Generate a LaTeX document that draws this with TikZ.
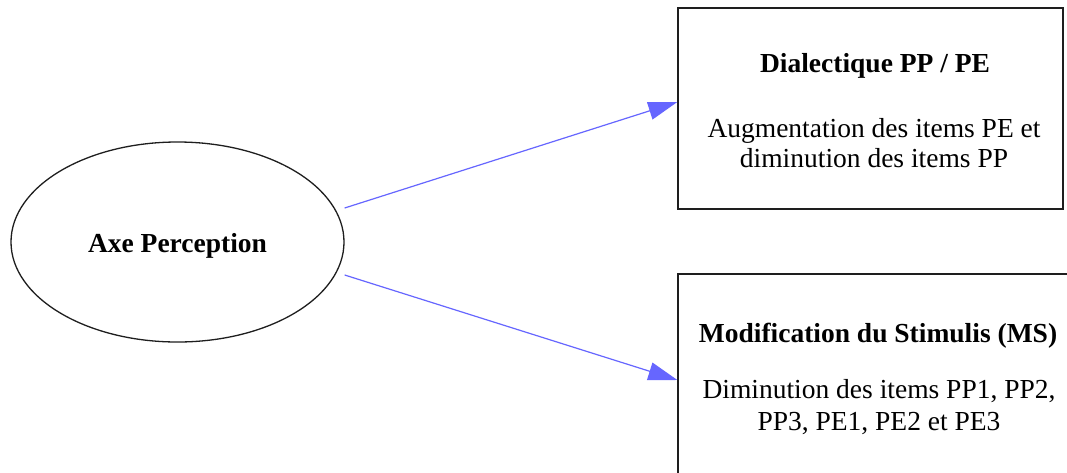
\documentclass[tikz,border=0pt]{standalone}
\usepackage{fontspec}
\setmainfont{Liberation Serif}
\usetikzlibrary{shapes.geometric,arrows.meta}
\definecolor{edgeblue}{RGB}{102,102,255}
\definecolor{linegray}{RGB}{30,30,30}
\tikzset{
  shapeline/.style={draw=linegray, line width=1.3pt},
  ell/.style={shapeline, ellipse, inner sep=0pt},
  boxnode/.style={shapeline, rectangle, inner sep=0pt},
  txt/.style={anchor=base, inner sep=0pt, font=\fontsize{27.5pt}{33pt}\selectfont},
  btxt/.style={txt, font=\fontsize{27.5pt}{33pt}\selectfont\bfseries},
  conn/.style={draw=edgeblue, line width=1.2pt, -{Triangle[length=29pt,width=18pt,fill=edgeblue]}}
}
\begin{document}
\begin{tikzpicture}[x=1pt,y=-1pt]
\useasboundingbox (0,0) rectangle (1067,472);
\clip (0,0) rectangle (1067,472);
\fill[white] (0,0) rectangle (1067,472);
% nodes
\node[ell, minimum width=333pt, minimum height=200pt] (axe) at (177.5,242) {};
\node[btxt] (axet) at (177.5,252) {Axe Perception};
\node[boxnode, minimum width=385pt, minimum height=201pt] (d1) at (870.5,108.5) {};
\node[btxt] (d1t) at (875,72) {Dialectique PP / PE};
\node[txt] (d1a) at (874,137) {Augmentation des items PE et};
\node[txt] (d1b) at (874,167) {diminution des items PP};
\node[boxnode, minimum width=400pt, minimum height=224pt] (d2) at (878,386) {};
\node[btxt] (d2t) at (878,342) {Modification du Stimulis (MS)};
\node[txt] (d2a) at (879,398.5) {Diminution des items PP1, PP2,};
\node[txt] (d2b) at (879,430) {PP3, PE1, PE2 et PE3};
% connectors
\coordinate (s1) at ([shift={(0pt,34pt)}]axe.east);
\coordinate (s2) at ([shift={(0pt,-33pt)}]axe.east);
\draw[conn] (s1) -- ([yshift=6.5pt]d1.west);
\draw[conn] (s2) -- ([yshift=6pt]d2.west);
\end{tikzpicture}
\end{document}
